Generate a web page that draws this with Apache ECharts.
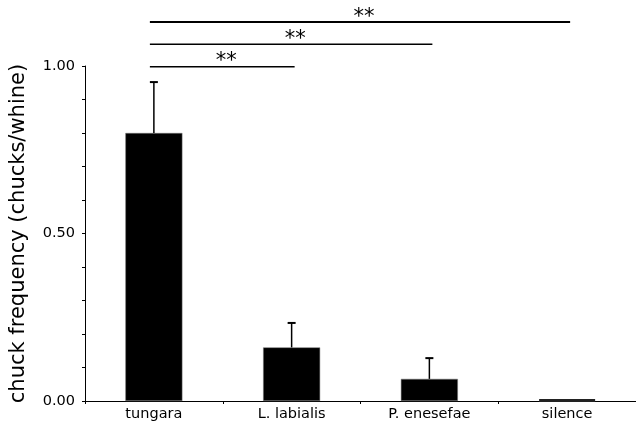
<!DOCTYPE html>
<html><head><meta charset="utf-8">
<script src="https://cdn.jsdelivr.net/npm/echarts@6/dist/echarts.min.js"></script>
<style>html,body{margin:0;padding:0;background:#fff}#c{width:636px;height:430px}</style>
</head><body><div id="c"></div>
<script>
var categories = ['tungara', 'L. labialis', 'P. enesefae', 'silence'];
var means = [0.80, 0.16, 0.066, 0.003];
var upperErr = [0.952, 0.233, 0.128, 0.003];
var yTicks = [0, 0.5, 1.0];
var sigStart = [0, 0, 0];
var sigEnd = [1, 2, 3];
var sigY = [0.998, 1.065, 1.131];
var sigLabels = ['**', '**', '**'];

var FONT = 'DejaVu Sans';
var chart = echarts.init(document.getElementById('c'), null, {renderer: 'canvas'});

var barData = means.map(function (v, i) {
  if (i === categories.length - 1) return {value: v, itemStyle: {color: '#222', borderColor: '#222', borderWidth: 3}};
  return v;
});
var errData = categories.map(function (c, i) { return [i, means[i], upperErr[i]]; });
var sigData = sigStart.map(function (s, i) { return [s, sigEnd[i], sigY[i], i]; });

chart.setOption({
  animation: false,
  grid: {left: 82, right: -7, top: 66, bottom: 29, containLabel: false},
  xAxis: {
    type: 'category', data: categories,
    axisLine: {lineStyle: {color: '#000', width: 1}},
    axisTick: {show: true, length: 3, lineStyle: {color: '#000'}},
    axisLabel: {color: '#000', fontFamily: FONT, fontSize: 14.5, margin: 6}
  },
  yAxis: {
    type: 'value', min: 0, max: 1.0, interval: 0.1,
    name: 'chuck frequency (chucks/whine)', nameLocation: 'middle', nameGap: 56,
    nameTextStyle: {color: '#000', fontFamily: FONT, fontSize: 21},
    axisLine: {show: true, lineStyle: {color: '#000', width: 1}},
    axisTick: {show: true, length: 3, lineStyle: {color: '#000'}},
    splitLine: {show: false},
    axisLabel: {
      color: '#000', fontFamily: FONT, fontSize: 14.5, margin: 10,
      formatter: function (v) {
        for (var k = 0; k < yTicks.length; k++) if (Math.abs(v - yTicks[k]) < 1e-6) return yTicks[k].toFixed(2);
        return '';
      }
    }
  },
  series: [
    {
      type: 'bar', data: barData, barWidth: 57,
      itemStyle: {color: '#000', borderColor: '#777', borderWidth: 0.5}
    },
    {
      type: 'custom', data: errData, z: 5, clip: false,
      renderItem: function (params, api) {
        var x = api.value(0);
        if (api.value(2) <= api.value(1)) return null;
        var p0 = api.coord([x, api.value(1)]);
        var p1 = api.coord([x, api.value(2)]);
        var cap = 4;
        return {type: 'group', children: [
          {type: 'line', shape: {x1: p0[0], y1: p0[1], x2: p1[0], y2: p1[1]}, style: {stroke: '#000', lineWidth: 1.5}},
          {type: 'line', shape: {x1: p1[0] - cap, y1: p1[1], x2: p1[0] + cap, y2: p1[1]}, style: {stroke: '#000', lineWidth: 2}}
        ]};
      }
    },
    {
      type: 'custom', data: sigData, z: 5, clip: false,
      renderItem: function (params, api) {
        var a = api.coord([api.value(0), api.value(2)]);
        var b = api.coord([api.value(1), api.value(2)]);
        var idx = api.value(3);
        var lw = idx === 2 ? 2 : 1.5;
        var x1 = a[0] - 4, x2 = b[0] + 3;
        return {type: 'group', children: [
          {type: 'line', shape: {x1: x1, y1: a[1], x2: x2, y2: b[1]}, style: {stroke: '#000', lineWidth: lw}},
          {type: 'text', x: (x1 + x2) / 2 + 4, y: a[1] - 5,
           style: {text: sigLabels[idx], fill: '#000', font: '21px "DejaVu Sans"', align: 'center', verticalAlign: 'middle'}}
        ]};
      }
    }
  ]
});
</script></body></html>
